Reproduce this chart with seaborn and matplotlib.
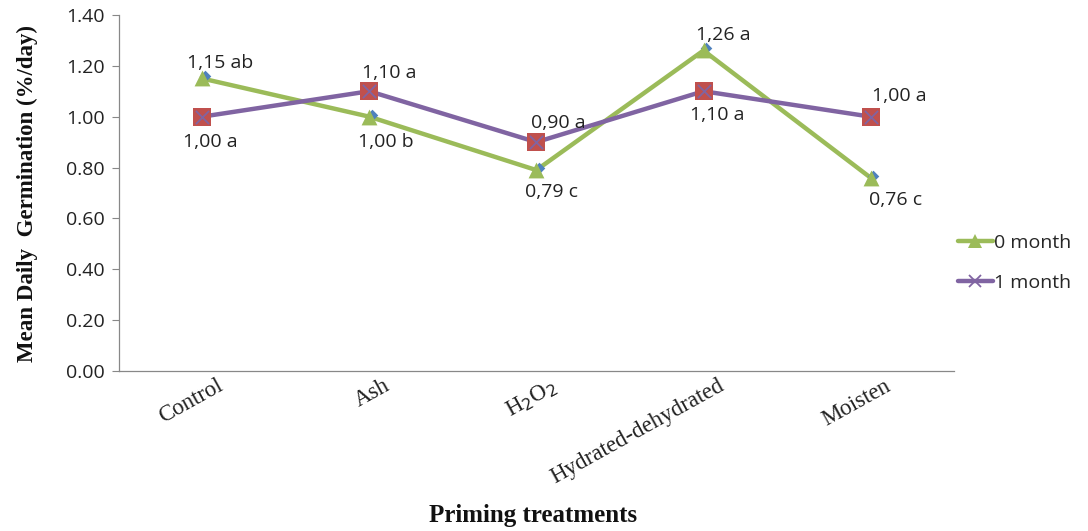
import matplotlib
matplotlib.use("Agg")
import matplotlib.pyplot as plt
import seaborn as sns
import pandas as pd
from matplotlib.lines import Line2D

treatments = ["Control", "Ash", "H$_2$O$_2$", "Hydrated-dehydrated", "Moisten"]
month0 = [1.15, 1.00, 0.79, 1.26, 0.76]
month1 = [1.00, 1.10, 0.90, 1.10, 1.00]
labels0 = ["1,15 ab", "1,00 b", "0,79 c", "1,26 a", "0,76 c"]
labels1 = ["1,00 a", "1,10 a", "0,90 a", "1,10 a", "1,00 a"]
series_names = ["0 month", "1 month"]
yticks = [0.00, 0.20, 0.40, 0.60, 0.80, 1.00, 1.20, 1.40]

GREEN = "#9BBB59"
PURPLE = "#8064A2"
RED = "#C0504D"
BLUE = "#4F81BD"

df = pd.DataFrame({
    "pos": list(range(len(treatments))) * 2,
    "value": month0 + month1,
    "series": [series_names[0]] * len(month0) + [series_names[1]] * len(month1),
})

sns.set_style("white")
plt.rcParams["font.family"] = ["Open Sans", "DejaVu Sans"]

fig = plt.figure(figsize=(10.88, 5.31), dpi=100)
ax = fig.add_axes([0.109, 0.301, 0.768, 0.671])

sns.lineplot(data=df, x="pos", y="value", hue="series",
             palette={series_names[0]: GREEN, series_names[1]: PURPLE},
             linewidth=3.2, legend=False, ax=ax, zorder=2)

d0 = df[df["series"] == series_names[0]]
d1 = df[df["series"] == series_names[1]]
# 0 month: blue diamond peeking out under a green triangle
ax.scatter(d0["pos"] + 0.015, d0["value"] + 0.008, marker="D", s=35, color=BLUE, zorder=3, linewidths=0)
ax.scatter(d0["pos"], d0["value"], marker="^", s=130, color=GREEN, zorder=4, linewidths=0)
# 1 month: red square with a purple cross
ax.scatter(d1["pos"], d1["value"], marker="s", s=160, color=RED, zorder=3, linewidths=0)
ax.scatter(d1["pos"], d1["value"], marker="x", s=90, color=PURPLE, zorder=4, linewidths=1.3)

# value labels (offsets in category / data units)
offs0 = [(0.11, 0.06), (0.10, -0.10), (0.09, -0.087), (0.12, 0.06), (0.15, -0.087)]
offs1 = [(0.05, -0.10), (0.12, 0.07), (0.13, 0.075), (0.08, -0.095), (0.17, 0.083)]
for i in range(len(treatments)):
    ax.text(i + offs0[i][0], month0[i] + offs0[i][1], labels0[i], ha="center", va="center",
            fontsize=14, color="#222222", zorder=5)
    ax.text(i + offs1[i][0], month1[i] + offs1[i][1], labels1[i], ha="center", va="center",
            fontsize=14, color="#222222", zorder=5)

ax.set_xlim(-0.5, len(treatments) - 0.5)
ax.set_ylim(0, 1.40)
ax.set_yticks(yticks)
ax.set_yticklabels([f"{v:.2f}" for v in yticks], fontsize=14, color="#222222")
ax.set_xticks(range(len(treatments)))
ax.set_xticklabels([])
# category names, rotated, with their right end just right of each category
for i, name in enumerate(treatments):
    ax.annotate(name, xy=(i, 0), xycoords=("data", "axes fraction"),
                xytext=(10, -3), textcoords="offset points",
                rotation=29, ha="right", va="top", rotation_mode="anchor",
                fontsize=16.5, family=["Liberation Serif"], color="#222222",
                annotation_clip=False)
ax.tick_params(axis="y", length=5, width=0.8, color="#888888", direction="out", left=True, pad=5)
ax.tick_params(axis="x", length=0)

for s in ["top", "right"]:
    ax.spines[s].set_visible(False)
for s in ["left", "bottom"]:
    ax.spines[s].set_color("#888888")
    ax.spines[s].set_linewidth(0.9)

ax.set_xlabel("")
ax.set_ylabel("Mean Daily  Germination (%/day)", fontsize=16.5, fontweight="bold",
              family=["Liberation Serif"], labelpad=20, color="#111111")
fig.text(0.49, 0.03, "Priming treatments", ha="center", va="center", fontsize=18,
         fontweight="bold", family=["Liberation Serif"], color="#111111")

handles = [
    Line2D([], [], color=GREEN, linewidth=3.2, marker="^", markersize=10, markeredgewidth=0),
    Line2D([], [], color=PURPLE, linewidth=3.2, marker="x", markersize=9, markeredgewidth=1.3),
]
fig.legend(handles, series_names, loc="center left", bbox_to_anchor=(0.864, 0.505),
           frameon=False, fontsize=14, handlelength=1.8, handletextpad=0.1,
           labelspacing=1.1)

fig.savefig("out.png", dpi=100)
